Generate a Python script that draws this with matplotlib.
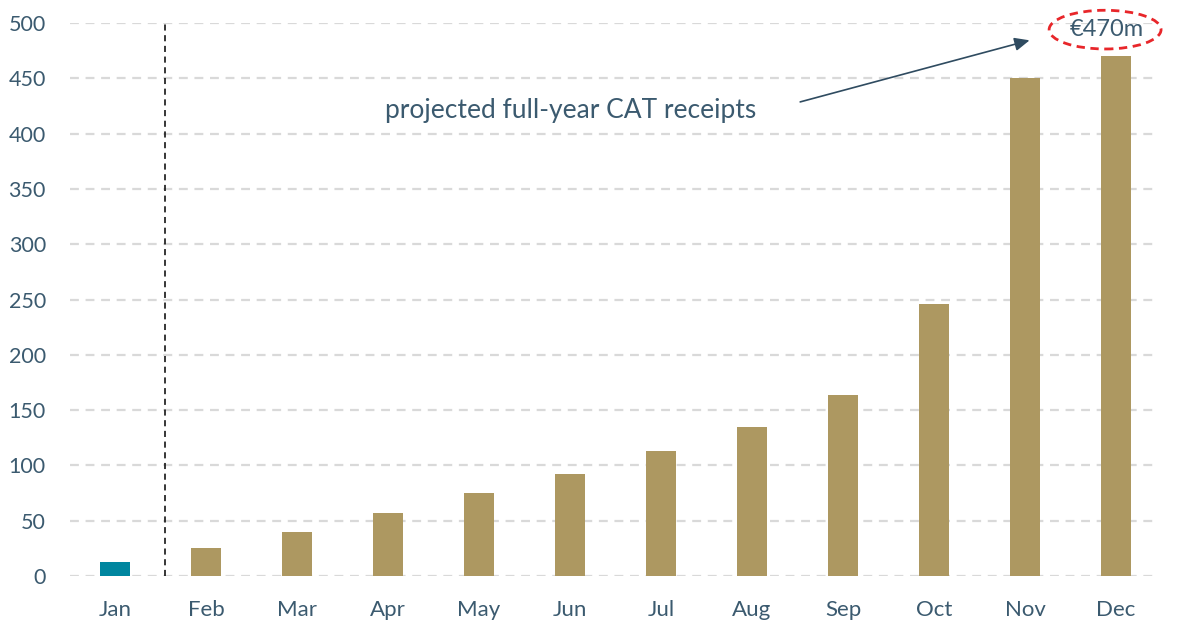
import matplotlib
matplotlib.use("Agg")
import matplotlib.pyplot as plt
from matplotlib.patches import Ellipse

months = ["Jan", "Feb", "Mar", "Apr", "May", "Jun", "Jul", "Aug", "Sep", "Oct", "Nov", "Dec"]
receipts = [13, 25, 40, 57, 75, 92, 113, 135, 164, 246, 450, 470]
yticks = [0, 50, 100, 150, 200, 250, 300, 350, 400, 450, 500]

gold = "#AD9861"
teal = "#00869F"
txt = "#3B5A6F"

plt.rcParams['font.family'] = ['Lato', 'DejaVu Sans']

fig = plt.figure(figsize=(11.84, 6.30), dpi=100)
ax = fig.add_axes([0.0587, 0.0857, 0.9223, 0.8778])

x = list(range(len(months)))
colors = [teal] + [gold] * (len(months) - 1)
ax.bar(x, receipts, width=0.32, color=colors, zorder=3)

ax.set_xlim(-0.5, 11.5)
ax.set_ylim(0, 500)
ax.set_yticks(yticks)
ax.set_xticks(x)
ax.set_xticklabels(months)
ax.tick_params(axis='both', length=0, labelsize=16, labelcolor=txt)
ax.tick_params(axis='x', pad=17)
ax.tick_params(axis='y', pad=17, labelsize=15.5)
for s in ax.spines.values():
    s.set_visible(False)
for t in yticks:
    ax.axhline(t, color="#D9D9D9", lw=1.6, ls=(0, (4, 3)), zorder=1, xmax=0.992)

ax.plot([0.55, 0.55], [0, 500], color="black", lw=1.1, ls=(0, (4, 3)), zorder=2)

ax.annotate("", xy=(10.08, 485), xytext=(7.5, 428),
            arrowprops=dict(arrowstyle="-|>,head_length=0.9,head_width=0.4",
                            color="#2F4B60", lw=1.2))
ax.text(5.01, 421, "projected full-year CAT receipts", fontsize=19, color=txt,
        ha="center", va="center")
ax.text(10.9, 494, "€470m", fontsize=17, color=txt, ha="center", va="center")
ax.add_patch(Ellipse((10.88, 494), 1.23, 35, fill=False, edgecolor="#E8262A",
                     lw=2, ls=(0, (3, 2)), clip_on=False, zorder=4))

fig.savefig("out.png", dpi=100)
